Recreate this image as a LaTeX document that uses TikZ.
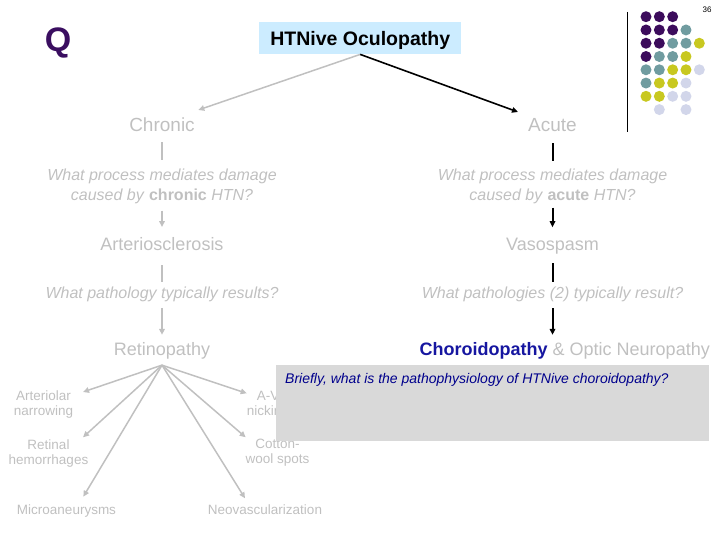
\documentclass[tikz,border=0pt]{standalone}
\usepackage{fontspec}
\setmainfont{Liberation Sans}
\usetikzlibrary{arrows.meta,calc}
\definecolor{txtgray}{RGB}{192,192,192}
\definecolor{lngray}{RGB}{192,192,192}
\definecolor{qpurple}{RGB}{58,14,96}
\definecolor{titlebg}{RGB}{204,236,255}
\definecolor{chblue}{RGB}{22,22,160}
\definecolor{qblue}{RGB}{0,0,140}
\definecolor{boxgray}{RGB}{217,217,217}
\definecolor{dP}{RGB}{60,12,92}
\definecolor{dT}{RGB}{112,156,160}
\definecolor{dY}{RGB}{200,200,32}
\definecolor{dL}{RGB}{210,214,234}
\begin{document}
\begin{tikzpicture}[x=1pt,y=-1pt,
  txt/.style={inner sep=0pt, text=txtgray},
  bigf/.style={font=\fontsize{19}{22}\selectfont},
  midf/.style={font=\fontsize{18}{21}\selectfont},
  qf/.style={font=\fontsize{16}{19.5}\selectfont\itshape},
  smf/.style={font=\fontsize{13.5}{15}\selectfont},
  gline/.style={draw=lngray, line width=1.5pt},
  garrow/.style={gline, -{Triangle[length=6pt,width=5.5pt]}},
  bline/.style={draw=black, line width=2pt},
  barrow/.style={bline, -{Triangle[length=6pt,width=5.5pt]}}]
\useasboundingbox (0,0) rectangle (720,540);

% header
\node[anchor=base, inner sep=0pt, text=qpurple, font=\fontsize{34}{40}\selectfont\bfseries] (q) at (58,51.5) {Q};
\node[fill=titlebg, minimum width=202pt, minimum height=32pt, inner sep=0pt, text depth=0pt,
      font=\fontsize{19.5}{22}\selectfont\bfseries] (title) at (360.2,38.2) {HTNive Oculopathy};
\node[anchor=base, inner sep=0pt, font=\fontsize{8}{9}\selectfont] (num) at (707,13) {36};

% logo
\draw[line width=1pt] (627.3,12) -- (627.3,132);
\foreach \c/\r/\k in {1/1/dP,2/1/dP,3/1/dP,
  1/2/dP,2/2/dP,3/2/dP,4/2/dT,
  1/3/dP,2/3/dP,3/3/dT,4/3/dT,5/3/dY,
  1/4/dP,2/4/dT,3/4/dT,4/4/dY,
  1/5/dT,2/5/dT,3/5/dY,4/5/dY,5/5/dL,
  1/6/dT,2/6/dY,3/6/dY,4/6/dL,
  1/7/dY,2/7/dY,3/7/dL,4/7/dL,
  2/8/dL,4/8/dL}
  \fill[\k] ({646+13.33*(\c-1)},{16.7+13.27*(\r-1)}) circle[radius=5.5];

% chronic column
\node[txt, bigf, anchor=base] (chronic) at (162,132) {Chronic};
\node[txt, qf, align=center] (cq) at (162,186.2) {What process mediates damage\\caused by \textup{\textbf{chronic}} HTN?};
\node[txt, midf, anchor=base] (arts) at (162,250) {Arteriosclerosis};
\node[txt, qf, anchor=base] (cq2) at (162,298.3) {What pathology typically results?};
\node[txt, midf, anchor=base] (retino) at (162,355.5) {Retinopathy};

% acute column
\node[txt, bigf, anchor=base] (acute) at (552.5,132) {Acute};
\node[txt, qf, align=center] (aq) at (552.5,186.2) {What process mediates damage\\caused by \textup{\textbf{acute}} HTN?};
\node[txt, midf, anchor=base] (vaso) at (552.5,250) {Vasospasm};
\node[txt, qf, anchor=base] (aq2) at (552.5,298.3) {What pathologies (2) typically result?};
\node[txt, midf, anchor=base east] (choro) at (710,355.5) {\textcolor{chblue}{\textbf{Choroidopathy}} \& Optic Neuropathy};

% title arrows
\coordinate (chrTip) at (198.3,110);
\coordinate (acuTip) at (518,112);
\draw[garrow] (title.south) -- (chrTip);
\draw[barrow, line width=1.6pt] (title.south) -- (acuTip);

% left chain
\draw[gline, shorten <=16.8pt, shorten >=26.5pt] (chronic.center) -- (cq.center);
\draw[garrow, shorten <=24.5pt, shorten >=16.5pt] (cq.center) -- (arts.center);
\draw[gline, shorten <=21.5pt, shorten >=12.5pt] (arts.center) -- (cq2.center);
\draw[garrow, shorten <=13.8pt, shorten >=16pt] (cq2.center) -- (retino.center);

% right chain
\draw[bline, shorten <=17.8pt, shorten >=24.8pt] (acute.center) -- (aq.center);
\draw[barrow, shorten <=21.5pt, shorten >=18.5pt] (aq.center) -- (vaso.center);
\draw[bline, shorten <=17.5pt, shorten >=12.3pt] (vaso.center) -- (aq2.center);
\draw[barrow, shorten <=14pt, shorten >=16pt] (aq2.center) -- (aq2.center |- choro.center);

% retinopathy findings
\node[txt, smf, align=center] (art) at (43.5,404.5) {Arteriolar\\narrowing};
\node[txt, smf, align=center] (ret) at (48.5,453.2) {Retinal\\hemorrhages};
\node[txt, smf, anchor=base] (micro) at (66.5,514.7) {Microaneurysms};
\node[txt, smf, align=center] (av) at (268,404.5) {A-V\\nicking};
\node[txt, smf, align=center] (cot) at (277.5,453) {Cotton-\\wool spots};
\node[txt, smf, anchor=base] (neo) at (265,514.7) {Neovascularization};

\coordinate (rfan) at ([yshift=-5.7pt]retino.south);
\coordinate (artTip) at (83,392);
\coordinate (retTip) at (83,437.3);
\coordinate (micTip) at (83.3,496.7);
\coordinate (avTip) at (246.7,393.3);
\coordinate (cotTip) at (245.7,437.3);
\coordinate (neoTip) at (245,498.3);
\foreach \t in {artTip,retTip,micTip,avTip,cotTip,neoTip}
  \draw[garrow] (rfan) -- (\t);

% question box
\node[fill=boxgray, minimum width=433pt, minimum height=75.5pt, inner sep=0pt, anchor=north west] (box) at (276,365) {};
\node[anchor=base west, inner sep=0pt, text=qblue, font=\fontsize{14}{16}\selectfont\itshape] (brief) at (285,383.3)
  {Briefly, what is the pathophysiology of HTNive choroidopathy?};
\end{tikzpicture}
\end{document}
